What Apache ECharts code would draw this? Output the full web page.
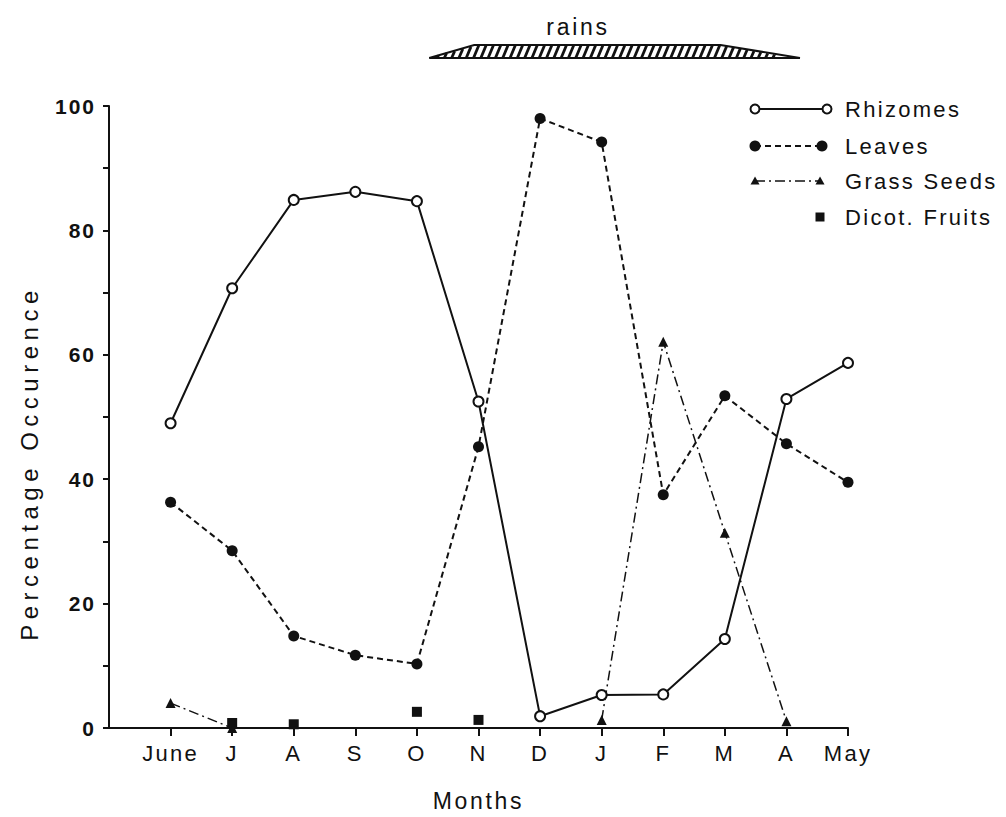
<!DOCTYPE html>
<html>
<head>
<meta charset="utf-8">
<script src="https://cdn.jsdelivr.net/npm/echarts@6/dist/echarts.min.js"></script>
<style>
  html, body { margin: 0; padding: 0; background: #fff; }
  #chart { width: 1006px; height: 817px; }
  /* spaced-out lettering, keyed by font size */
  #chart text[style*="21px"] { letter-spacing: 2px; }
  #chart text[style*="22px"] { letter-spacing: 2.3px; }
  #chart text[style*="23px"] { letter-spacing: 2.7px; }
  #chart text[style*="24px"] { letter-spacing: 5.5px; }
</style>
</head>
<body>
<div id="chart"></div>
<script>
// Month labels along the x axis (index 0 = June)
const months = ['June', 'J', 'A', 'S', 'O', 'N', 'D', 'J', 'F', 'M', 'A', 'May'];

// Percentage occurrence per month
const rhizomes    = [49.0, 70.7, 84.9, 86.2, 84.7, 52.5, 1.9, 5.3, 5.4, 14.3, 52.9, 58.7];
const leaves      = [36.3, 28.5, 14.8, 11.7, 10.3, 45.2, 98.0, 94.2, 37.5, 53.4, 45.7, 39.5];
const grassSeeds  = [4.0, 0, null, null, null, null, null, 1.3, 62.1, 31.4, 1.1, null];
const dicotFruits = [null, 0.8, 0.6, null, 2.6, 1.3, null, null, null, null, null, null];

// Axis ticks and labels
const yTickLabels = [0, 20, 40, 60, 80, 100];
const yTicks = [0, 10, 20, 30, 40, 50, 60, 70, 80, 90, 100];
const monthTicks = months.map((m, i) => i);

// Rainy season profile in month units: start, full strength, waning, end
const rainsProfile = [4.2, 4.93, 8.93, 10.22];

const FONT = 'Liberation Sans';
const INK = '#111';

const pairs = arr => arr.map((v, i) => [i, v == null ? '-' : v]);

const chart = echarts.init(document.getElementById('chart'), null, { renderer: 'svg' });

chart.setOption({
  backgroundColor: '#fff',
  animation: false,
  grid: { left: 109, right: 158, top: 106, bottom: 89 },
  xAxis: {
    type: 'value', min: -1, max: 11, interval: 1,
    name: 'Months', nameLocation: 'middle', nameGap: 61,
    nameTextStyle: { fontSize: 23, color: INK, fontFamily: FONT },
    axisLine: { onZero: false, lineStyle: { color: INK, width: 2 } },
    axisTick: { length: 8, lineStyle: { color: INK, width: 2 }, customValues: monthTicks },
    axisLabel: {
      customValues: monthTicks, formatter: v => months[v],
      fontSize: 22, color: INK, fontFamily: FONT, margin: 14
    },
    splitLine: { show: false }
  },
  yAxis: {
    type: 'value', min: 0, max: 100, interval: 10,
    name: 'Percentage Occurence', nameLocation: 'middle', nameRotate: 90, nameGap: 68,
    nameTextStyle: { fontSize: 24, color: INK, fontFamily: FONT, padding: [0, 92, 0, 0] },
    axisLine: { show: true, onZero: false, lineStyle: { color: INK, width: 2 } },
    axisTick: { show: true, length: 6, lineStyle: { color: INK, width: 2 }, customValues: yTicks },
    axisLabel: {
      customValues: yTickLabels, fontSize: 21, fontWeight: 'bold',
      color: INK, fontFamily: FONT, margin: 13
    },
    splitLine: { show: false }
  },
  series: [
    {
      name: 'Rhizomes', type: 'line', clip: false, z: 4,
      data: pairs(rhizomes),
      symbol: 'emptyCircle', symbolSize: 10,
      lineStyle: { color: INK, width: 2 },
      itemStyle: { color: INK, borderWidth: 2 }
    },
    {
      name: 'Leaves', type: 'line', clip: false, z: 3,
      data: pairs(leaves),
      symbol: 'circle', symbolSize: 11,
      lineStyle: { color: INK, width: 2, type: [6, 4] },
      itemStyle: { color: INK }
    },
    {
      name: 'Grass Seeds', type: 'line', clip: false, z: 2,
      data: pairs(grassSeeds),
      symbol: 'triangle', symbolSize: 10,
      lineStyle: { color: INK, width: 1.5, type: [10, 4, 2, 4] },
      itemStyle: { color: INK }
    },
    {
      name: 'Dicot. Fruits', type: 'scatter', z: 5,
      data: pairs(dicotFruits).filter(p => p[1] !== '-'),
      symbol: 'rect', symbolSize: 10,
      itemStyle: { color: INK, opacity: 1 }
    }
  ]
});

// ---- legend drawn as line samples with end markers ----
const legendItems = ['Rhizomes', 'Leaves', 'Grass Seeds', 'Dicot. Fruits'];
const legendRows = [109, 146, 181, 217];
const lx0 = 755, textX = 845;
const legendEls = [];

function legendText(label, y) {
  legendEls.push({
    type: 'text', z: 10,
    style: { text: label, x: textX, y: y, fontSize: 22, fontFamily: FONT, fill: INK, verticalAlign: 'middle' }
  });
}
// Rhizomes: solid line, open circles
(function () {
  const y = legendRows[0], x1 = 827;
  legendEls.push({ type: 'line', z: 10, shape: { x1: lx0, y1: y, x2: x1, y2: y }, style: { stroke: INK, lineWidth: 2 } });
  [lx0, x1].forEach(cx => legendEls.push({ type: 'circle', z: 11, shape: { cx: cx, cy: y, r: 4.5 }, style: { fill: '#fff', stroke: INK, lineWidth: 2 } }));
  legendText(legendItems[0], y);
})();
// Leaves: dashed line, filled circles
(function () {
  const y = legendRows[1], x1 = 822;
  legendEls.push({ type: 'line', z: 10, shape: { x1: lx0, y1: y, x2: x1, y2: y }, style: { stroke: INK, lineWidth: 2, lineDash: [6, 4] } });
  [lx0, x1].forEach(cx => legendEls.push({ type: 'circle', z: 11, shape: { cx: cx, cy: y, r: 5.5 }, style: { fill: INK } }));
  legendText(legendItems[1], y);
})();
// Grass seeds: dash-dot line, triangles
(function () {
  const y = legendRows[2], x1 = 820;
  legendEls.push({ type: 'line', z: 10, shape: { x1: lx0, y1: y, x2: x1, y2: y }, style: { stroke: INK, lineWidth: 1.5, lineDash: [10, 4, 2, 4] } });
  [lx0, x1].forEach(cx => legendEls.push({
    type: 'polygon', z: 11,
    shape: { points: [[cx, y - 4.5], [cx + 4.5, y + 3.5], [cx - 4.5, y + 3.5]] },
    style: { fill: INK }
  }));
  legendText(legendItems[2], y);
})();
// Dicot fruits: square marker only
(function () {
  const y = legendRows[3];
  legendEls.push({ type: 'rect', z: 11, shape: { x: 820 - 4.5, y: y - 4.5, width: 9, height: 9 }, style: { fill: INK } });
  legendText(legendItems[3], y);
})();

// ---- rainy season band above the plot ----
const [xL, xTL, xTR, xR] = rainsProfile.map(m => chart.convertToPixel({ xAxisIndex: 0 }, m));
const yB = 58, yT = 45;
function topY(x) {
  if (x <= xL || x >= xR) return yB;
  if (x < xTL) return yB - (yB - yT) * (x - xL) / (xTL - xL);
  if (x > xTR) return yT + (yB - yT) * (x - xTR) / (xR - xTR);
  return yT;
}
const rainEls = [];
rainEls.push({
  type: 'polygon', z: 10,
  shape: { points: [[xL, yB], [xTL, yT], [xTR, yT], [xR, yB]] },
  style: { fill: '#fff', stroke: INK, lineWidth: 2 }
});
const pitch = 7.3, lean = 5 / 13;
for (let x = xL + 8; x < xR - 6; x += pitch) {
  const yt = topY(x + 3);
  const h = yB - yt;
  if (h < 3) continue;
  rainEls.push({
    type: 'line', z: 11,
    shape: { x1: x, y1: yB - 0.5, x2: x + lean * h, y2: yt + 0.5 },
    style: { stroke: INK, lineWidth: 2.8 }
  });
}
rainEls.push({
  type: 'text', z: 11,
  style: { text: 'rains', x: 578, y: 27, fontSize: 23, fontFamily: FONT, fill: INK, align: 'center', verticalAlign: 'middle' }
});

chart.setOption({ graphic: legendEls.concat(rainEls) });
</script>
</body>
</html>
